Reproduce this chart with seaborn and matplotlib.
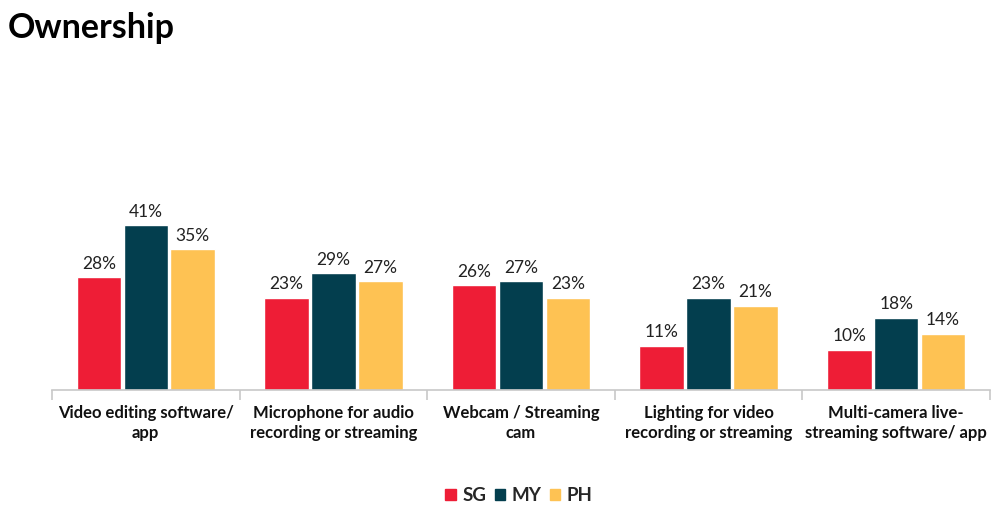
import pandas as pd
import seaborn as sns
import matplotlib.pyplot as plt
from matplotlib.ticker import FixedLocator

# data
categories = ["Video editing software/\napp",
              "Microphone for audio\nrecording or streaming",
              "Webcam / Streaming\ncam",
              "Lighting for video\nrecording or streaming",
              "Multi-camera live-\nstreaming software/ app"]
sg = [28, 23, 26, 11, 10]
my = [41, 29, 27, 23, 18]
ph = [35, 27, 23, 21, 14]
markets = ["SG", "MY", "PH"]
colors = ["#EE1D36", "#033E4E", "#FEC253"]

df = pd.DataFrame({
    "category": categories * 3,
    "market": [m for m in markets for _ in categories],
    "value": sg + my + ph,
})

sns.set_theme(style="white")
plt.rcParams['font.family'] = ['Lato', 'DejaVu Sans']

fig = plt.figure(figsize=(10, 5.16), dpi=100)
ax = fig.add_axes([0.052, 0.244, 0.938, 0.39])

sns.barplot(data=df, x="category", y="value", hue="market",
            palette=colors, width=0.75, gap=0.05, ax=ax,
            legend=False, saturation=1)

for cont in ax.containers:
    ax.bar_label(cont, labels=[f"{v:.0f}%" for v in cont.datavalues],
                 padding=4, fontsize=12.5, color="#222222")

ax.set_ylim(0, 50)
ax.set_xlim(-0.5, len(categories) - 0.5)
ax.set_xlabel("")
ax.set_ylabel("")
ax.set_yticks([])
for s in ["top", "right", "left"]:
    ax.spines[s].set_visible(False)
ax.spines["bottom"].set_color("#c8c8c8")
ax.spines["bottom"].set_linewidth(1.2)

ax.tick_params(axis="x", which="major", length=0, pad=11)
ax.xaxis.set_minor_locator(FixedLocator([i - 0.5 for i in range(len(categories) + 1)]))
ax.tick_params(axis="x", which="minor", bottom=True, length=7, width=1.2, color="#c8c8c8")
for lbl in ax.get_xticklabels():
    lbl.set_fontsize(12)
    lbl.set_fontweight("bold")
    lbl.set_color("#111111")
    lbl.set_linespacing(1.25)

handles = [plt.Rectangle((0, 0), 1, 1, color=c) for c in colors]
fig.legend(handles, markets, loc="center", bbox_to_anchor=(0.519, 0.04),
           ncol=3, frameon=False, handlelength=0.55, handleheight=0.55,
           handletextpad=0.35, columnspacing=0.45,
           prop={"family": "Lato", "weight": "bold", "size": 13.5})

fig.text(0.008, 0.945, "Ownership", fontsize=24.5, fontweight="bold",
         color="black", ha="left", va="center")

fig.savefig("out.png", dpi=100)
